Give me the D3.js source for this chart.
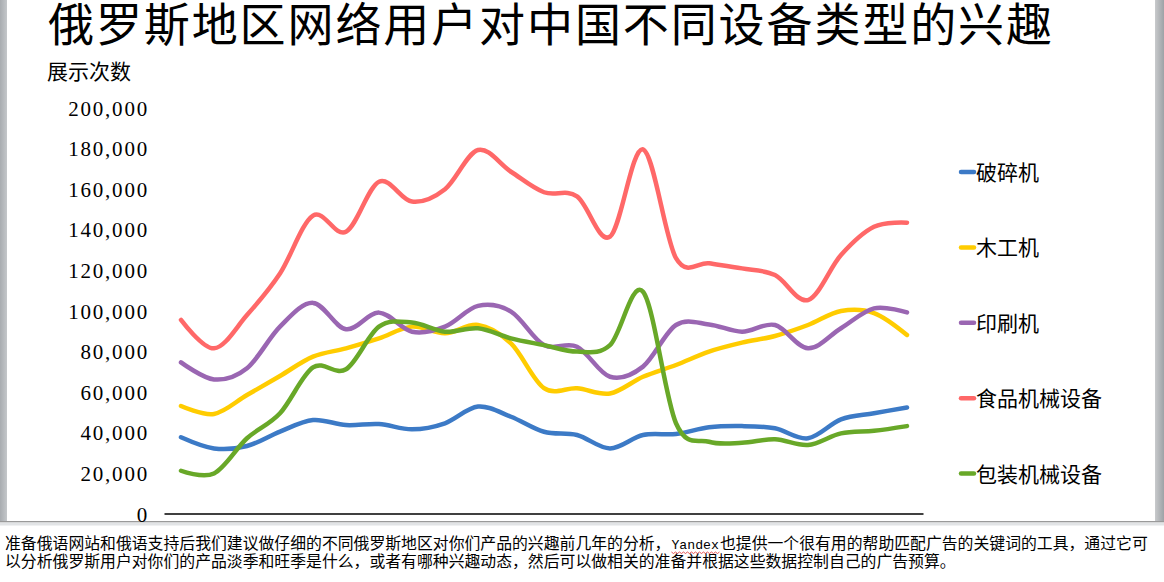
<!DOCTYPE html>
<html><head><meta charset="utf-8">
<script src="https://cdn.jsdelivr.net/npm/d3@7/dist/d3.min.js"></script>
<style>
html,body{margin:0;padding:0;background:#fff;}
svg{display:block;}
</style></head>
<body>
<svg id="chart" width="1164" height="582"></svg>
<script>
const titleText = "俄罗斯地区网络用户对中国不同设备类型的兴趣";
const yAxisTitle = "展示次数";
const categories = ["1","2","3","4","5","6","7","8","9","10","11","12","13","14","15","16","17","18","19","20","21","22","23"];
const yTicks = [0,20000,40000,60000,80000,100000,120000,140000,160000,180000,200000];
const seriesNames = ["破碎机","木工机","印刷机","食品机械设备","包装机械设备"];
const seriesColors = ["#3C7AC6","#FFCC00","#9A66B2","#FF6868","#68A828"];
const crusher   = [37800,32300,33500,40600,46300,43800,44300,41700,44700,52900,47900,40500,38900,32300,38900,39400,42700,43300,42200,37300,46600,49600,52500];
const woodwork  = [53200,49300,58600,68000,77500,81600,86500,92300,89000,93100,84000,62000,61900,59400,67600,73400,80000,84400,87700,93100,100000,99000,88200];
const printing  = [74700,66300,71800,92300,104000,91000,99200,89800,92300,102500,99700,83200,82400,67600,72600,93100,93400,89800,93100,81600,91500,101300,99300];
const food      = [95600,81600,98000,118500,147000,139000,163700,153900,160000,179300,168600,158500,156500,136600,179600,126000,123500,121000,117700,105400,127600,141500,143500];
const packaging = [21300,20000,37300,49600,72200,71300,92300,94300,89800,91500,86500,83200,80000,83200,109500,44700,35600,35100,36800,34000,39700,41000,43300];
const noteLine1a = "准备俄语网站和俄语支持后我们建议做仔细的不同俄罗斯地区对你们产品的兴趣前几年的分析，";
const noteLine1b = "Yandex";
const noteLine1c = "也提供一个很有用的帮助匹配广告的关键词的工具，通过它可";
const noteLine2 = "以分析俄罗斯用户对你们的产品淡季和旺季是什么，或者有哪种兴趣动态，然后可以做相关的准备并根据这些数据控制自己的广告预算。";

const series = [crusher, woodwork, printing, food, packaging];

const svg = d3.select("#chart");
const cjk = "'Noto Sans CJK SC','Noto Sans',sans-serif";

// frame decorations
const defs = svg.append("defs");
const gR = defs.append("linearGradient").attr("id","gr").attr("x1","0").attr("x2","1");
gR.append("stop").attr("offset","0").attr("stop-color","#c8cacc");
gR.append("stop").attr("offset","1").attr("stop-color","#9ea2a6");
const gL = defs.append("linearGradient").attr("id","gl").attr("x1","0").attr("x2","1");
gL.append("stop").attr("offset","0").attr("stop-color","#a8acb0");
gL.append("stop").attr("offset","1").attr("stop-color","#c4c7ca");
svg.append("rect").attr("x",0).attr("y",0).attr("width",7).attr("height",522).attr("fill","url(#gl)");
svg.append("rect").attr("x",1155).attr("y",0).attr("width",9).attr("height",522).attr("fill","url(#gr)");
svg.append("rect").attr("x",0).attr("y",521).attr("width",1164).attr("height",1.5).attr("fill","#9a9a9a");
svg.append("rect").attr("x",0).attr("y",522.5).attr("width",1164).attr("height",3).attr("fill","#e2e4e6");

// scales
const x = d3.scalePoint().domain(categories).range([181, 907]);
const y = d3.scaleLinear().domain([0, 200000]).range([514, 108]);

// title
svg.append("text").attr("x",48).attr("y",41)
  .attr("font-family",cjk).attr("font-size",46).attr("letter-spacing","1.9px").attr("fill","#000")
  .text(titleText);
svg.append("text").attr("x",47).attr("y",79)
  .attr("font-family",cjk).attr("font-size",21).attr("fill","#000")
  .text(yAxisTitle);

// y axis (labels only)
const fmt = d3.format(",");
const yAxis = d3.axisLeft(y).tickValues(yTicks).tickSize(0).tickPadding(0).tickFormat(d => fmt(d));
const yg = svg.append("g").attr("transform","translate(149,0)").call(yAxis);
yg.select(".domain").remove();
yg.selectAll("text").attr("font-family","'Liberation Serif','DejaVu Serif',serif")
  .attr("font-size",21).attr("letter-spacing","1.8px").attr("fill","#000").attr("dy","0.34em");

// x axis line
const step = x.step();
const xAxis = d3.axisBottom(x).tickSize(0).tickFormat("");
const xg = svg.append("g").attr("transform","translate(0,514)").call(xAxis);
xg.select(".domain").attr("d", `M${181 - step/2},0H${907 + step/2}`).attr("stroke","#000").attr("stroke-width",1.5);

// lines
const line = d3.line().x((d,i) => x(categories[i])).y(d => y(d)).curve(d3.curveCardinal.tension(0));
series.forEach((s, i) => {
  svg.append("path").datum(s).attr("d", line)
    .attr("fill","none").attr("stroke",seriesColors[i]).attr("stroke-width",4.5)
    .attr("stroke-linecap","round").attr("stroke-linejoin","round");
});

// legend
const legend = svg.append("g");
seriesNames.forEach((n, i) => {
  const ly = 172 + i * 75.4;
  legend.append("line").attr("x1",961).attr("x2",974).attr("y1",ly).attr("y2",ly)
    .attr("stroke",seriesColors[i]).attr("stroke-width",4.5).attr("stroke-linecap","round");
  legend.append("text").attr("x",976).attr("y",ly+8).attr("font-family",cjk)
    .attr("font-size",21).attr("fill","#000").text(n);
});

// note text (separate text elements, laid out one after another)
const noteFs = 15.85;
const ta = svg.append("text").attr("x",5).attr("y",549).attr("font-family",cjk).attr("font-size",noteFs).attr("fill","#000").text(noteLine1a);
const xa = 5 + ta.node().getComputedTextLength() + 1;
const tb = svg.append("text").attr("x",xa).attr("y",549).attr("font-family","'Liberation Mono','DejaVu Sans Mono',monospace").attr("font-size",13.2).attr("fill","#000").text(noteLine1b);
const wb = tb.node().getComputedTextLength();
const xc = xa + wb + 1;
svg.append("text").attr("x",xc).attr("y",549).attr("font-family",cjk).attr("font-size",noteFs).attr("fill","#000").text(noteLine1c);
svg.append("text").attr("x",5).attr("y",567).attr("font-family",cjk).attr("font-size",noteFs).attr("fill","#000").text(noteLine2);

// wavy underline under Yandex
let d = `M${xa},552`;
for (let xx = xa; xx < xa + wb - 1; xx += 4) d += ` l2,1.5 l2,-1.5`;
svg.append("path").attr("d", d).attr("fill","none").attr("stroke","#e03030").attr("stroke-width",0.8);
</script>
</body></html>
